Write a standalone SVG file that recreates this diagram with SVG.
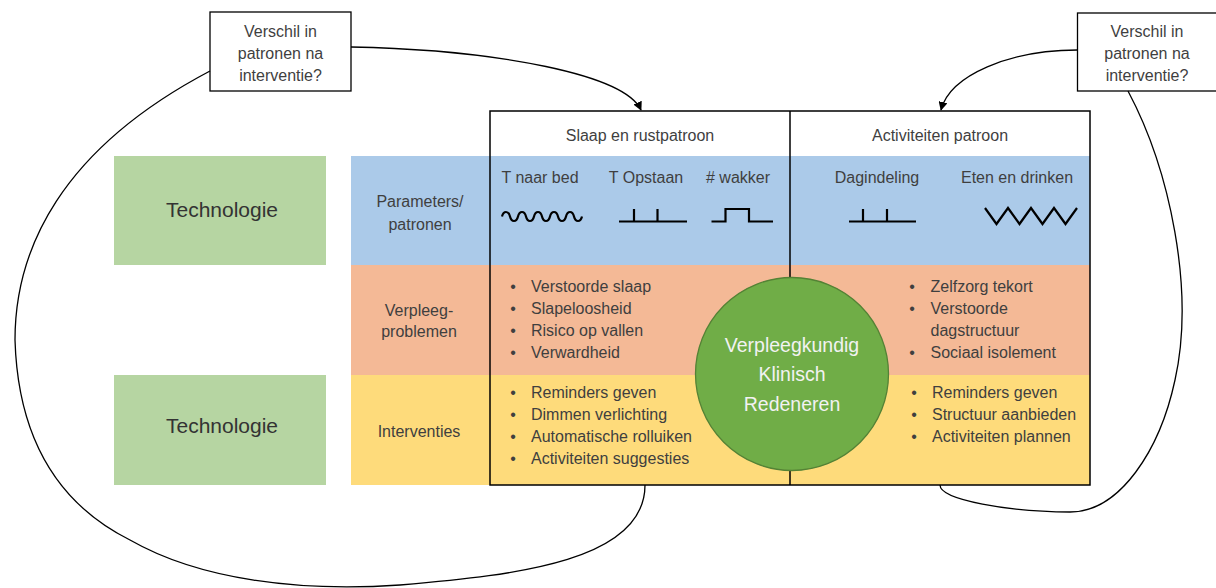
<svg xmlns="http://www.w3.org/2000/svg" width="1216" height="588" viewBox="0 0 1216 588">
<style>
.t{font-family:"Liberation Sans",Arial,sans-serif;font-size:16px;fill:#3f3f3f}
.c{text-anchor:middle}
.box{fill:#fff;stroke:#000;stroke-width:1.3}
.sym{fill:none;stroke:#000;stroke-width:2.2}
.con{fill:none;stroke:#000;stroke-width:1.3}
.tech{fill:#b6d5a2}
.tt{font-family:"Liberation Sans",Arial,sans-serif;font-size:21px;fill:#333;text-anchor:middle}
.ct{font-family:"Liberation Sans",Arial,sans-serif;font-size:19.5px;fill:#f2f2f2;text-anchor:middle}
</style>
<defs>
<marker id="ah" viewBox="0 0 10 10" refX="9" refY="5" markerWidth="9" markerHeight="9" markerUnits="userSpaceOnUse" orient="auto">
<path d="M0,0 L10,5 L0,10 z" fill="#000"/>
</marker>
</defs>

<g id="tech1"><rect class="tech" x="114" y="156" width="212" height="109"/><text class="tt" x="222" y="216.5">Technologie</text></g>
<g id="tech2"><rect class="tech" x="114" y="375" width="212" height="110"/><text class="tt" x="222" y="432.5">Technologie</text></g>

<g id="rows">
<rect x="351" y="156" width="739" height="109" fill="#abcae9"/>
<rect x="351" y="265" width="739" height="110" fill="#f4b996"/>
<rect x="351" y="375" width="739" height="110" fill="#fedb7b"/>
<rect x="490" y="111" width="600" height="45" fill="#fff"/>
</g>

<g id="labels">
<text class="t c" x="420" y="207">Parameters/</text>
<text class="t c" x="420" y="229.5">patronen</text>
<text class="t c" x="419" y="315.5">Verpleeg-</text>
<text class="t c" x="419" y="336.5">problemen</text>
<text class="t c" x="419" y="437">Interventies</text>
</g>

<g id="frame">
<rect x="490" y="111" width="600" height="374" fill="none" stroke="#000" stroke-width="1.5"/>
<line x1="790" y1="111" x2="790" y2="485" stroke="#000" stroke-width="1.5"/>
</g>

<g id="headers">
<text class="t c" x="640" y="140.5">Slaap en rustpatroon</text>
<text class="t c" x="940" y="140.5">Activiteiten patroon</text>
</g>

<g id="params">
<text class="t c" x="540" y="182.5">T naar bed</text>
<text class="t c" x="646" y="182.5">T Opstaan</text>
<text class="t c" x="738" y="182.5"># wakker</text>
<text class="t c" x="877" y="182.5">Dagindeling</text>
<text class="t c" x="1017" y="182.5">Eten en drinken</text>
<path class="sym" d="M502,216.5 c1.5,-6 6.5,-6 8,0 c1.5,6 6.5,6 8,0 c1.5,-6 6.5,-6 8,0 c1.5,6 6.5,6 8,0 c1.5,-6 6.5,-6 8,0 c1.5,6 6.5,6 8,0 c1.5,-6 6.5,-6 8,0 c1.5,6 6.5,6 8,0 c1.5,-6 6.5,-6 8,0 c1.5,6 6.5,6 8,0"/>
<path class="sym" d="M619,221.5 H687 M634,221.5 V209 M657.5,221.5 V209"/>
<path class="sym" d="M711.5,221.5 H725.5 V209 H749 V221.5 H773"/>
<path class="sym" d="M849,221.5 H916 M863,221.5 V209 M887,221.5 V209"/>
<path class="sym" d="M985,208 L996.5,224 L1008,208 L1019.5,224 L1031,208 L1042.5,224 L1054,208 L1065.5,224 L1077,208"/>
</g>

<g id="problems-left">
<text class="t c" x="513" y="292">•</text><text class="t" x="531" y="292">Verstoorde slaap</text>
<text class="t c" x="513" y="314">•</text><text class="t" x="531" y="314">Slapeloosheid</text>
<text class="t c" x="513" y="336">•</text><text class="t" x="531" y="336">Risico op vallen</text>
<text class="t c" x="513" y="358">•</text><text class="t" x="531" y="358">Verwardheid</text>
</g>
<g id="interventions-left">
<text class="t c" x="513" y="397.5">•</text><text class="t" x="531" y="397.5">Reminders geven</text>
<text class="t c" x="513" y="419.5">•</text><text class="t" x="531" y="419.5">Dimmen verlichting</text>
<text class="t c" x="513" y="441.5">•</text><text class="t" x="531" y="441.5">Automatische rolluiken</text>
<text class="t c" x="513" y="463.5">•</text><text class="t" x="531" y="463.5">Activiteiten suggesties</text>
</g>
<g id="problems-right">
<text class="t c" x="912" y="292">•</text><text class="t" x="930.5" y="292">Zelfzorg tekort</text>
<text class="t c" x="912" y="314">•</text><text class="t" x="930.5" y="314">Verstoorde</text>
<text class="t" x="930.5" y="336">dagstructuur</text>
<text class="t c" x="912" y="358">•</text><text class="t" x="930.5" y="358">Sociaal isolement</text>
</g>
<g id="interventions-right">
<text class="t c" x="914" y="397.5">•</text><text class="t" x="932" y="397.5">Reminders geven</text>
<text class="t c" x="914" y="419.5">•</text><text class="t" x="932" y="419.5">Structuur aanbieden</text>
<text class="t c" x="914" y="441.5">•</text><text class="t" x="932" y="441.5">Activiteiten plannen</text>
</g>

<g id="circle">
<circle cx="792" cy="374" r="96.5" fill="#70ad47" stroke="#548235" stroke-width="1.3"/>
<text class="ct" x="792" y="352">Verpleegkundig</text>
<text class="ct" x="792" y="381">Klinisch</text>
<text class="ct" x="792" y="411">Redeneren</text>
</g>

<g id="question-left">
<rect class="box" x="210" y="12" width="141" height="79"/>
<text class="t c" x="280.5" y="37">Verschil in</text>
<text class="t c" x="280.5" y="59">patronen na</text>
<text class="t c" x="280.5" y="80.5">interventie?</text>
</g>
<g id="question-right">
<rect class="box" x="1077.5" y="13" width="150" height="78"/>
<text class="t c" x="1147" y="37">Verschil in</text>
<text class="t c" x="1147" y="59">patronen na</text>
<text class="t c" x="1147" y="80.5">interventie?</text>
</g>

<g id="connectors">
<path class="con" d="M351,47 C500,50 625,75 641,110" marker-end="url(#ah)"/>
<path class="con" d="M1077.5,50 C1010,50 950,75 941,110" marker-end="url(#ah)"/>
<path class="con" d="M645,485 C645,560 520,575 400,585 C300,592 200,580 130,540 C60,505 18,440 15,340 C15,250 60,150 210,71"/>
<path class="con" d="M1128,91 C1170,170 1195,290 1175,380 C1160,450 1120,512 1070,512 C1010,512 940,500 940,485"/>
</g>
</svg>
